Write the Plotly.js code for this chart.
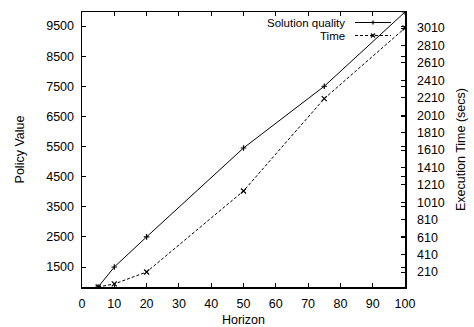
<!DOCTYPE html>
<html>
<head>
<meta charset="utf-8">
<script src="https://cdn.plot.ly/plotly-3.0.1.min.js"></script>
<style>html,body{margin:0;padding:0;background:#fff;}#chart{width:474px;height:327px;}</style>
</head>
<body>
<div id="chart"></div>
<script>
// Data
const horizon = [5, 10, 20, 50, 75, 100];
const solutionQuality = [836, 1500, 2500, 5450, 7500, 9965];
const executionTime = [38, 73, 210, 1140, 2200, 3010];
const seriesNames = ["Solution quality", "Time"];

const W = 474, H = 327;
const M = {l: 82, r: 69, t: 12, b: 40};
const PW = W - M.l - M.r, PH = H - M.t - M.b;
const px = x => (x - M.l) / PW;
const py = y => (H - M.b - y) / PH;

const font = {family: '"Liberation Sans", Arial, sans-serif', size: 12.5, color: '#000'};
const legFont = {family: '"Liberation Sans", Arial, sans-serif', size: 11.5, color: '#000'};

const traces = [
  {x: horizon, y: solutionQuality, name: seriesNames[0], type: 'scatter', mode: 'lines+markers',
   line: {color: '#000', width: 1}, marker: {symbol: 'cross-thin-open', size: 4, color: '#000', line: {color: '#000', width: 1.2}},
   yaxis: 'y', showlegend: false},
  {x: horizon, y: executionTime, name: seriesNames[1], type: 'scatter', mode: 'lines+markers',
   line: {color: '#000', width: 1, dash: '3px,2px'}, marker: {symbol: 'x-thin-open', size: 5, color: '#000', line: {color: '#000', width: 1.2}},
   yaxis: 'y2', showlegend: false}
];

// Legend drawn gnuplot-style: text on the left, sample on the right
const legY = [22.5, 35.5];
const lx0 = 355, lx1 = 391, mx = 373;
const shapes = [];
const annotations = [];
legY.forEach((yy, i) => {
  shapes.push({type: 'line', xref: 'paper', yref: 'paper', x0: px(lx0), x1: px(lx1), y0: py(yy), y1: py(yy),
    line: {color: '#000', width: 1, dash: i === 1 ? '3px,2px' : 'solid'}});
  if (i === 0) {
    shapes.push({type: 'line', xref: 'paper', yref: 'paper', x0: px(mx - 2), x1: px(mx + 2), y0: py(yy), y1: py(yy), line: {color: '#000', width: 1.2}});
    shapes.push({type: 'line', xref: 'paper', yref: 'paper', x0: px(mx), x1: px(mx), y0: py(yy - 2), y1: py(yy + 2), line: {color: '#000', width: 1.2}});
  } else {
    shapes.push({type: 'line', xref: 'paper', yref: 'paper', x0: px(mx - 2), x1: px(mx + 2), y0: py(yy - 2), y1: py(yy + 2), line: {color: '#000', width: 1.2}});
    shapes.push({type: 'line', xref: 'paper', yref: 'paper', x0: px(mx - 2), x1: px(mx + 2), y0: py(yy + 2), y1: py(yy - 2), line: {color: '#000', width: 1.2}});
  }
  annotations.push({xref: 'paper', yref: 'paper', x: px(347), y: py(yy), xanchor: 'right', yanchor: 'middle',
    text: seriesNames[i], showarrow: false, font: legFont, height: 12, valign: 'middle'});
});

const layout = {
  width: W, height: H,
  margin: M,
  paper_bgcolor: '#fff', plot_bgcolor: '#fff',
  font: font,
  showlegend: false,
  xaxis: {
    range: [0, 100], tick0: 0, dtick: 10, ticks: 'inside', ticklen: 4, tickcolor: '#000', tickwidth: 1,
    showline: true, linecolor: '#000', linewidth: 1.5, mirror: 'ticks', showgrid: false, zeroline: false,
    tickfont: font, ticklabelstandoff: 4, tickformat: 'd',
    title: {text: 'Horizon', font: font, standoff: 5}
  },
  yaxis: {
    range: [836, 9965], tick0: 1500, dtick: 1000, ticks: 'inside', ticklen: 4, tickcolor: '#000', tickwidth: 1,
    showline: true, linecolor: '#000', linewidth: 1.5, mirror: 'ticks', showgrid: false, zeroline: false,
    tickfont: font, ticklabelstandoff: 4, tickformat: 'd',
    title: {text: 'Policy Value', font: font, standoff: 19}
  },
  yaxis2: {
    overlaying: 'y', side: 'right',
    range: [38, 3194], tick0: 210, dtick: 200, ticks: 'inside', ticklen: 4, tickcolor: '#000', tickwidth: 1,
    showline: true, linecolor: '#000', linewidth: 1.5, showgrid: false, zeroline: false,
    tickfont: font, ticklabelstandoff: 8, tickformat: 'd',
    title: {text: 'Execution Time (secs)', font: font, standoff: 12}
  },
  shapes: shapes,
  annotations: annotations
};

Plotly.newPlot('chart', traces, layout, {staticPlot: true, displayModeBar: false});
</script>
</body>
</html>
